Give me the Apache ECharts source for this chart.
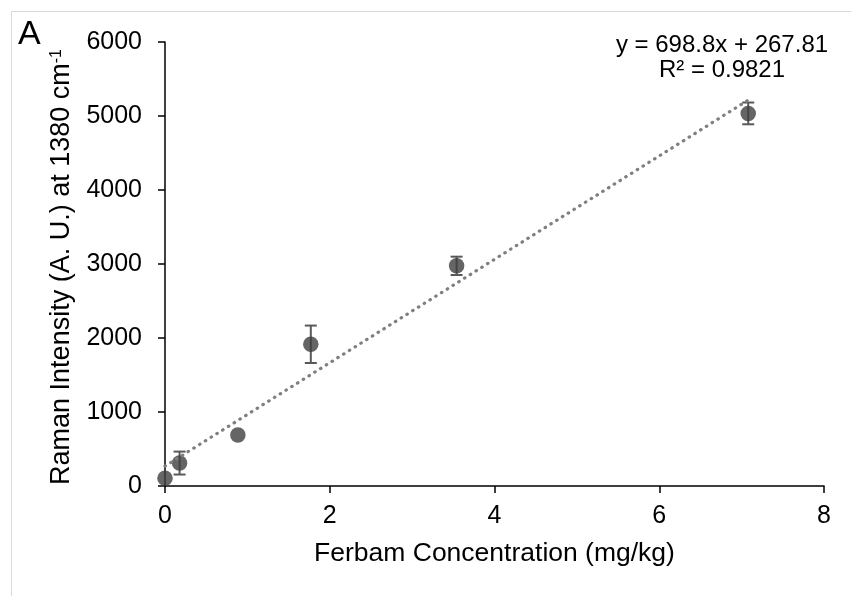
<!DOCTYPE html>
<html>
<head>
<meta charset="utf-8">
<script src="https://cdn.jsdelivr.net/npm/echarts@6/dist/echarts.min.js"></script>
<style>
  html, body { margin: 0; padding: 0; background: #fff; }
  #chart { width: 851px; height: 596px; }
</style>
</head>
<body>
<div id="chart"></div>
<script>
// 数据
const concentrations = [0, 0.177, 0.885, 1.77, 3.54, 7.08]
const intensities = [105, 310, 690, 1915, 2975, 5035]
const errors = [0, 155, 0, 253, 124, 147]
const xTicks = [0, 2, 4, 6, 8]
const yTicks = [0, 1000, 2000, 3000, 4000, 5000, 6000]

// 趋势线参数
const slope = 698.8
const intercept = 267.81
const rSquared = 0.9821
const trendRange = [0, 7.08]

const FONT = '"Liberation Sans", Arial, sans-serif'

const chart = echarts.init(document.getElementById('chart'))

const option = {
  animation: false,
  title: {
    text: 'A',
    left: 13,
    top: 13,
    textStyle: { fontFamily: FONT, fontSize: 34, fontWeight: 'normal', color: '#000' }
  },
  grid: { left: 165, right: 27, top: 42, bottom: 110 },
  xAxis: {
    type: 'value',
    min: xTicks[0],
    max: xTicks[xTicks.length - 1],
    interval: 2,
    name: 'Ferbam Concentration (mg/kg)',
    nameLocation: 'middle',
    nameGap: 54,
    nameTextStyle: { fontFamily: FONT, fontSize: 26.5, color: '#000' },
    axisLine: { lineStyle: { color: '#000', width: 1.5 } },
    axisTick: { inside: false, length: 7, lineStyle: { color: '#000', width: 1.5 } },
    axisLabel: { margin: 18, fontFamily: FONT, fontSize: 25, color: '#000' },
    splitLine: { show: false }
  },
  yAxis: {
    type: 'value',
    min: yTicks[0],
    max: yTicks[yTicks.length - 1],
    interval: 1000,
    name: '{n|Raman Intensity (A. U.) at 1380 cm}{s|-1}',
    nameLocation: 'middle',
    nameGap: 80,
    nameRotate: 90,
    nameTextStyle: {
      fontFamily: FONT,
      fontSize: 27,
      color: '#000',
      padding: [0, 6, 0, 0],
      rich: {
        n: { fontFamily: FONT, fontSize: 27, color: '#000', verticalAlign: 'bottom' },
        s: { fontFamily: FONT, fontSize: 16, color: '#000', verticalAlign: 'top', padding: [0, 0, 10, 0] }
      }
    },
    axisLine: { show: true, lineStyle: { color: '#000', width: 1.5 } },
    axisTick: { show: true, inside: false, length: 7, lineStyle: { color: '#000', width: 1.5 } },
    axisLabel: { margin: 23, fontFamily: FONT, fontSize: 25, color: '#000', formatter: v => String(v) },
    splitLine: { show: false }
  },
  graphic: [
    {
      type: 'rect',
      silent: true,
      z: -10,
      shape: { x: 11.5, y: 11.5, width: 900, height: 700 },
      style: { fill: 'none', stroke: '#d9d9d9', lineWidth: 1 }
    },
    {
      type: 'text',
      silent: true,
      x: 722,
      y: 33,
      style: {
        text: 'y = ' + slope + 'x + ' + intercept + '\nR² = ' + rSquared,
        fontFamily: FONT,
        fontSize: 24,
        lineHeight: 25,
        align: 'center',
        fill: '#000'
      }
    }
  ],
  series: [
    {
      // 误差线
      type: 'custom',
      z: 2,
      data: concentrations.map((x, i) => [x, intensities[i] - errors[i], intensities[i] + errors[i]]),
      renderItem: (params, api) => {
        if (api.value(2) === api.value(1)) return
        const lo = api.coord([api.value(0), api.value(1)])
        const hi = api.coord([api.value(0), api.value(2)])
        const cap = 6
        const style = { stroke: '#595959', lineWidth: 2 }
        return {
          type: 'group',
          children: [
            { type: 'line', shape: { x1: lo[0], y1: lo[1], x2: hi[0], y2: hi[1] }, style },
            { type: 'line', shape: { x1: lo[0] - cap, y1: lo[1], x2: lo[0] + cap, y2: lo[1] }, style },
            { type: 'line', shape: { x1: hi[0] - cap, y1: hi[1], x2: hi[0] + cap, y2: hi[1] }, style }
          ]
        }
      }
    },
    {
      type: 'scatter',
      z: 3,
      symbol: 'circle',
      symbolSize: 15.5,
      itemStyle: { color: '#3f3f3f' },
      data: concentrations.map((x, i) => [x, intensities[i]])
    },
    {
      // 线性趋势线
      type: 'line',
      z: 4,
      symbol: 'none',
      silent: true,
      lineStyle: { color: '#7f7f7f', width: 3.2, type: [0.5, 6.3], cap: 'round' },
      data: trendRange.map(x => [x, slope * x + intercept])
    }
  ]
}

chart.setOption(option)
</script>
</body>
</html>
